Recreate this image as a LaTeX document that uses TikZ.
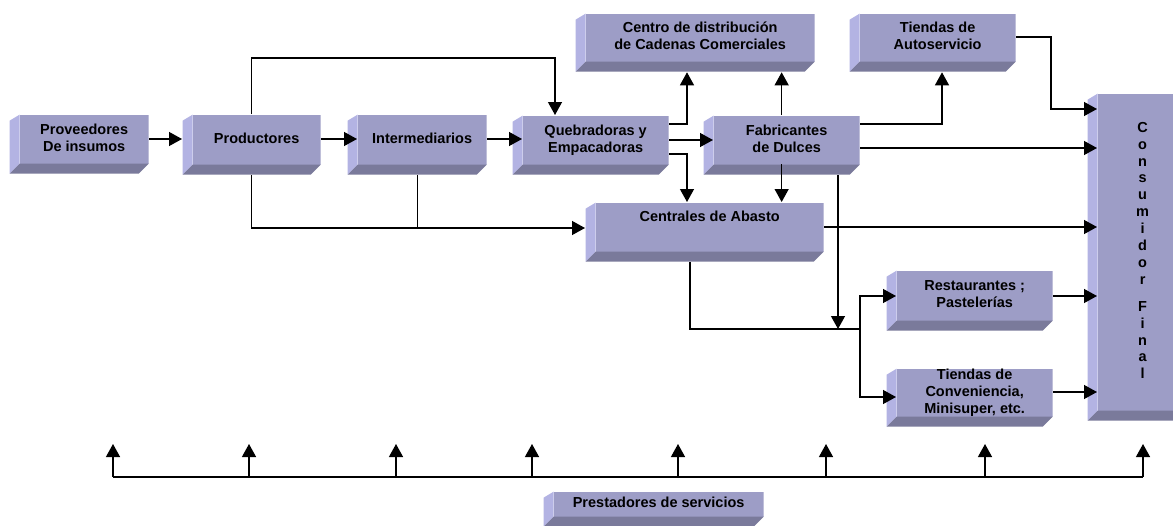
\documentclass[tikz,border=0pt]{standalone}
\usepackage{fontspec}
\setmainfont{Liberation Sans}
\usetikzlibrary{arrows.meta,calc}
\definecolor{bvfront}{HTML}{9D9DC6}
\definecolor{bvlite}{HTML}{B3B3E3}
\definecolor{bvdark}{HTML}{7A7A9B}
\newcommand\bxt[2][0pt]{\hspace*{10pt}\raisebox{\dimexpr(\depth-\height)/2+5pt+#1\relax}[0pt][0pt]{\begin{tabular}{@{}c@{}}#2\end{tabular}}}
\tikzset{
  bev/.style={rectangle, inner sep=0pt, anchor=north west, fill=white,
    font=\bfseries\fontsize{14.5}{17}\selectfont,
    path picture={
      \fill[bvlite] let \p1=(path picture bounding box.north west), \p2=(path picture bounding box.south east) in
        (\x1,\y1-6pt) -- (\x1+10pt,\y1) -- (\x1+10pt,\y2+10pt) -- (\x1,\y2) -- cycle;
      \fill[bvfront] let \p1=(path picture bounding box.north west), \p2=(path picture bounding box.south east) in
        (\x1+10pt,\y1) rectangle (\x2,\y2+10pt);
      \fill[bvdark] let \p1=(path picture bounding box.north west), \p2=(path picture bounding box.south east) in
        (\x1,\y2) -- (\x1+10pt,\y2+10pt) -- (\x2,\y2+10pt) -- (\x2-10pt,\y2) -- cycle;
    }},
  arr/.style={-{Triangle[length=13pt,width=14pt]}},
  into/.style={shorten >=-10pt},
}
\begin{document}
\begin{tikzpicture}[x=1pt,y=-1pt,line width=1.3pt,line join=miter]
\useasboundingbox (0,0) rectangle (1173,525);
\clip (0,0) rectangle (1173,525);
% boxes
\node[bev, minimum width=139pt, minimum height=59pt] (prov) at (9,114) {\bxt{Proveedores\\De insumos}};
\node[bev, minimum width=138pt, minimum height=60pt] (prod) at (182,114) {\bxt{Productores}};
\node[bev, minimum width=139pt, minimum height=60pt] (inter) at (347,114) {\bxt{Intermediarios}};
\node[bev, minimum width=156pt, minimum height=59pt] (queb) at (512,115) {\bxt{Quebradoras y\\Empacadoras}};
\node[bev, minimum width=156pt, minimum height=59pt] (fab) at (703,115) {\bxt{Fabricantes\\de Dulces}};
\node[bev, minimum width=238pt, minimum height=59pt] (cent) at (585,202) {\bxt[9pt]{Centrales de Abasto}};
\node[bev, minimum width=239pt, minimum height=58pt] (centro) at (575,13) {\bxt{Centro de distribución\\de Cadenas Comerciales}};
\node[bev, minimum width=166pt, minimum height=58pt] (auto) at (849,13) {\bxt{Tiendas de\\Autoservicio}};
\node[bev, minimum width=166pt, minimum height=60pt] (rest) at (886,270) {\bxt{Restaurantes ;\\Pastelerías}};
\node[bev, minimum width=166pt, minimum height=58pt] (conv) at (886,368) {\bxt{Tiendas de\\Conveniencia,\\Minisuper, etc.}};
\node[bev, minimum width=100pt, minimum height=327pt, font=\bfseries\fontsize{14.5}{16.9}\selectfont] (cons) at (1087,93)
  {\bxt{C\\o\\n\\s\\u\\m\\i\\d\\o\\r\\[10pt]F\\i\\n\\a\\l}};
\node[bev, minimum width=220pt, minimum height=35pt] (prest) at (543,491) {\bxt{Prestadores de servicios}};
% helper coordinates
\coordinate (yA) at (0,139);
\coordinate (yB) at (0,140);
\coordinate (yC) at (0,148);
\coordinate (yD) at (0,227);
\coordinate (yE) at (0,296);
\coordinate (yF) at (0,397);
\coordinate (yG) at (0,228);
\coordinate (yH) at (0,37);
\coordinate (yI) at (0,392);
\coordinate (kTop) at (555,58);
\coordinate (kQ1) at (687,124);
\coordinate (kQ2) at (687,154);
\coordinate (kF1) at (942,124);
\coordinate (jR) at (838,329);
\coordinate (kC) at (690,329);
\coordinate (kS) at (860,329);
\coordinate (kA) at (1051,109);
% connectors
\draw[arr] (prov.east |- yA) -- (prod.west |- yA);
\draw[arr,into] (prod.east |- yA) -- (inter.west |- yA);
\draw[arr,into] (inter.east |- yA) -- (queb.west |- yA);
\draw[arr] (prod.north) |- (kTop) -- (queb.north -| kTop);
\draw[arr] (queb.east |- kQ1) -| (centro.south -| kQ1);
\draw[arr,into] (queb.east |- yB) -- (fab.west |- yB);
\draw[arr] (queb.east |- kQ2) -| (cent.north -| kQ2);
\draw[arr] (fab.north) -- (centro.south -| fab.north);
\draw[arr] (fab.east |- kF1) -| (auto.south -| kF1);
\draw[arr,into] (fab.east |- yC) -- (cons.west |- yC);
\draw[arr] ([yshift=11pt]fab.south) -- (cent.north -| fab.south);
\draw[arr] (fab.south -| jR) -- (jR);
\draw[arr,into] (cent.east |- yD) -- (cons.west |- yD);
\draw (cent.south -| kC) |- (kS);
\draw[arr,into] (kS) |- (rest.west |- yE);
\draw[arr,into] (kS) |- (conv.west |- yF);
\draw[arr] (prod.south) |- (cent.west |- yG);
\draw (inter.south) -- (inter.south |- yG);
\draw[arr,into] (auto.east |- yH) -| (kA) -- (cons.west |- kA);
\draw[arr,into] (rest.east |- yE) -- (cons.west |- yE);
\draw[arr,into] (conv.east |- yI) -- (cons.west |- yI);
% services line
\foreach \i/\xx in {1/113,2/249,3/396,4/532,5/678,6/826,7/985,8/1143}{
  \coordinate (b\i) at (\xx,477);
  \coordinate (t\i) at (\xx,444);
  \draw[arr] (b\i) -- (t\i);
}
\draw (b1) -- (b8);
\end{tikzpicture}
\end{document}
